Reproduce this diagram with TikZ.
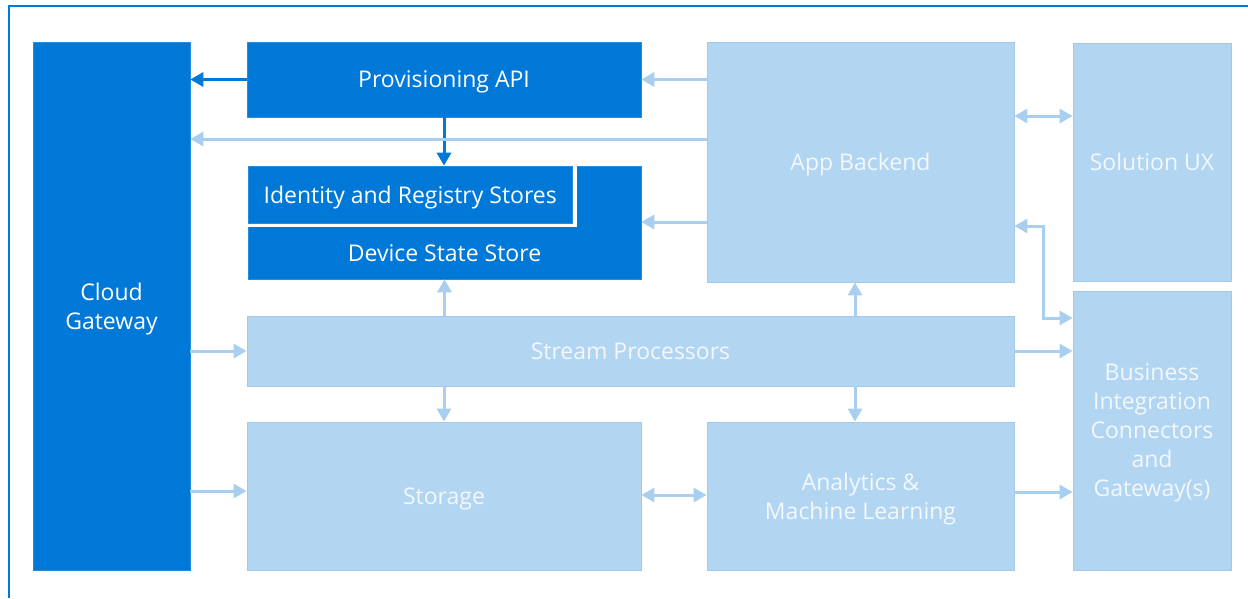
\documentclass[tikz,border=0pt]{standalone}
\usepackage{fontspec}
\setmainfont{Open Sans}
\usetikzlibrary{arrows.meta}
\definecolor{dblue}{HTML}{0078D7}
\definecolor{lfill}{HTML}{B2D5F2}
\definecolor{ledge}{HTML}{A3C8EA}
\definecolor{larrow}{HTML}{A9CFF0}
\definecolor{ltext}{HTML}{F2F8FD}
\tikzset{
  box/.style={rectangle, inner sep=0pt, align=center, text depth=0pt, font=\fontsize{23}{29}\selectfont},
  darkbox/.style={box, fill=dblue, draw=dblue!85!white, line width=0.6pt, text=white},
  lightbox/.style={box, fill=lfill, draw=ledge, line width=0.8pt, text=ltext},
  lbl/.style={inner sep=0pt, align=center, text depth=0pt, font=\fontsize{23}{29}\selectfont},
  darr/.style={draw=dblue, line width=3pt, -{Triangle[length=13pt,width=14pt]}},
  larr/.style={draw=larrow, line width=3pt, -{Triangle[length=13pt,width=14pt]}},
  lbiarr/.style={draw=larrow, line width=3pt, {Triangle[length=13pt,width=14pt]}-{Triangle[length=13pt,width=14pt]}},
}
\begin{document}
\begin{tikzpicture}[x=1pt,y=-1pt]
\useasboundingbox (0,0) rectangle (1248,598);
% frame
\draw[dblue, line width=2pt] (8.5,598) -- (8.5,5.5) -- (1248,5.5);

% dark boxes
\node[darkbox, minimum width=157pt, minimum height=528pt] (cg) at (111.5,306) {Cloud\\Gateway};
\node[darkbox, minimum width=394pt, minimum height=75pt] (prov) at (444,79.5) {Provisioning API};
\node[darkbox, minimum width=393pt, minimum height=113pt] (dss) at (444.5,222.5) {};
\node[lbl, text=white] (dsstext) at (444.5,253) {Device State Store};
\fill[white] (248,166) rectangle (576.5,227.3);
\node[darkbox, minimum width=324.5pt, minimum height=57.3pt] (ident) at (410.25,194.65) {Identity and Registry Stores};

% light boxes
\node[lightbox, minimum width=307pt, minimum height=240pt] (app) at (860.5,162) {App Backend};
\node[lightbox, minimum width=158pt, minimum height=238pt] (ux) at (1152,162) {Solution UX};
\node[lightbox, minimum width=158pt, minimum height=279pt] (biz) at (1152,430.5) {Business\\Integration\\Connectors\\and\\Gateway(s)};
\node[lightbox, minimum width=767pt, minimum height=70pt] (sp) at (630.5,351) {Stream Processors};
\node[lightbox, minimum width=394pt, minimum height=148pt] (st) at (444,496) {Storage};
\node[lightbox, minimum width=307pt, minimum height=148pt] (an) at (860.5,496) {Analytics \&\\Machine Learning};

% connectors
\draw[darr] (prov.west) -- (cg.east |- prov.west);
\draw[darr] (prov.south) -- (prov.south |- ident.north);
\draw[larr] (app.west |- 0,139) -- (cg.east |- 0,139);
\draw[larr] (app.west |- prov.east) -- (prov.east);
\draw[larr] (app.west |- 0,222) -- (dss.east |- 0,222);
\draw[lbiarr] (app.east |- 0,116) -- (ux.west |- 0,116);
\draw[lbiarr] (app.east |- 0,226) -- (1043,226) -- (1043,318) -- (biz.west |- 0,318);
\draw[larr] (sp.east) -- (biz.west |- sp.east);
\draw[larr] (dss.south |- sp.north) -- (dss.south);
\draw[larr] (sp.north -| 855,0) -- (app.south -| 855,0);
\draw[larr] (cg.east |- sp.west) -- (sp.west);
\draw[larr] (cg.east |- 0,491) -- (st.west |- 0,491);
\draw[larr] (st.north |- sp.south) -- (st.north);
\draw[larr] (sp.south -| 855,0) -- (an.north -| 855,0);
\draw[lbiarr] (st.east |- 0,495) -- (an.west |- 0,495);
\draw[larr] (an.east |- 0,492) -- (biz.west |- 0,492);
\end{tikzpicture}
\end{document}
